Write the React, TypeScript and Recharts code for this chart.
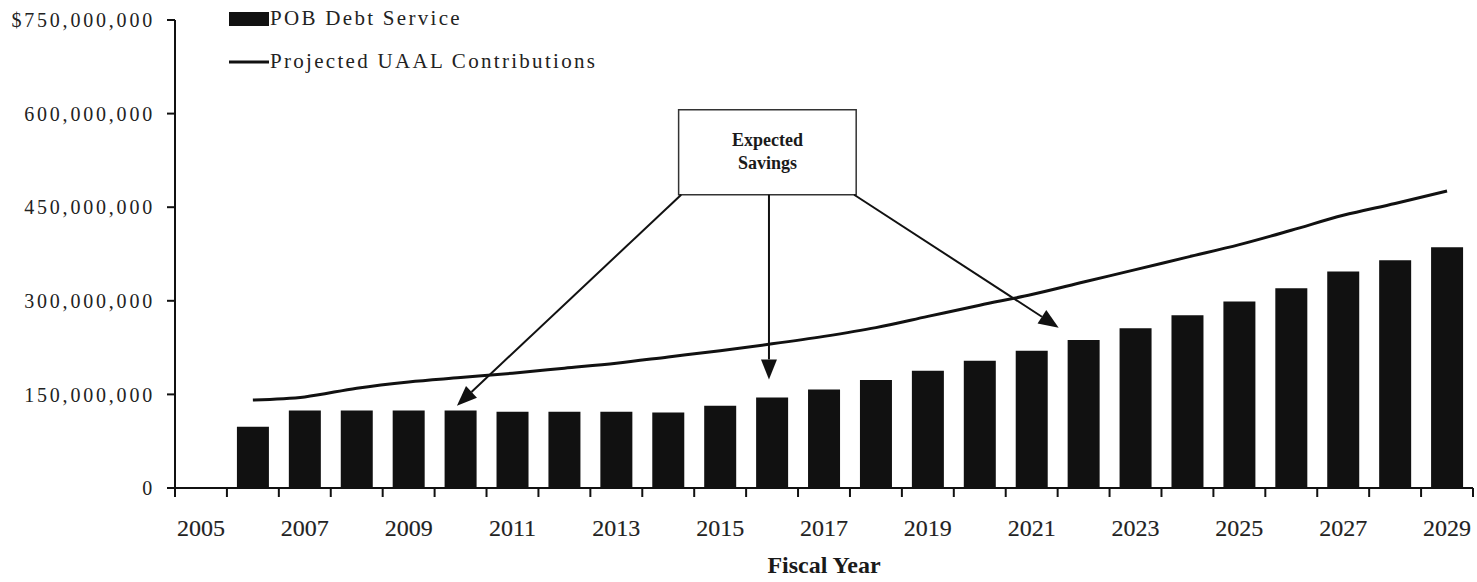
import {
  Bar,
  ComposedChart,
  Legend,
  Line,
  ReferenceArea,
  ReferenceLine,
  XAxis,
  YAxis,
} from "recharts";

// Fiscal years on the axis (2005 has no figures)
const YEARS = [
  2005, 2006, 2007, 2008, 2009, 2010, 2011, 2012, 2013, 2014, 2015, 2016, 2017,
  2018, 2019, 2020, 2021, 2022, 2023, 2024, 2025, 2026, 2027, 2028, 2029,
];

// $ millions
const POB_DEBT_SERVICE = [
  null, 98, 124, 124, 124, 124, 122, 122, 122, 121, 132, 145, 158, 173, 188,
  204, 220, 237, 256, 277, 299, 320, 347, 365, 386,
];

const UAAL_CONTRIBUTIONS = [
  null, 141, 146, 160, 170, 177, 184, 192, 200, 210, 220, 231, 243, 257, 275,
  293, 310, 330, 350, 370, 390, 413, 437, 456, 476,
];

const Y_TICKS = [0, 150e6, 300e6, 450e6, 600e6, 750e6];

const INK = "#111";
const SERIF = "'Liberation Serif', 'Times New Roman', serif";

const data = YEARS.map((year, i) => ({
  year,
  debt: POB_DEBT_SERVICE[i] == null ? null : POB_DEBT_SERVICE[i]! * 1e6,
  uaal: UAAL_CONTRIBUTIONS[i] == null ? null : UAAL_CONTRIBUTIONS[i]! * 1e6,
}));

// "Expected Savings" call-out, placed on a continuous year axis (dollars on y)
const SAVINGS_BOX = { x1: 2014.2, x2: 2017.62, y1: 470e6, y2: 606e6 };
const SAVINGS_ARROWS = [
  { from: [2014.25, 470e6], to: [2009.93, 132e6] },
  { from: [2015.94, 470e6], to: [2015.94, 174e6] },
  { from: [2017.58, 470e6], to: [2021.52, 257e6] },
];

const formatDollars = (v: number) =>
  v === 750e6 ? "$750,000,000" : v.toLocaleString("en-US");

const YearTick = (props: any) => {
  const { x, y, payload, index, visibleTicksCount, width } = props;
  const half = width / visibleTicksCount / 2;
  const isLast = index === visibleTicksCount - 1;
  return (
    <g>
      <line x1={x - half} x2={x - half} y1={y} y2={y + 9} stroke={INK} strokeWidth={2} />
      {isLast && (
        <line x1={x + half} x2={x + half} y1={y} y2={y + 9} stroke={INK} strokeWidth={2} />
      )}
      {payload.value % 2 === 1 && (
        <text
          x={x}
          y={y + 48}
          textAnchor="middle"
          fontFamily={SERIF}
          fontSize={24}
          fill="#222"
          stroke="#222"
          strokeWidth={0.15}
        >
          {payload.value}
        </text>
      )}
    </g>
  );
};

const Arrow = (props: any) => {
  const { x1, y1, x2, y2 } = props;
  const ang = Math.atan2(y2 - y1, x2 - x1);
  const len = 20;
  const w = 8;
  const bx = x2 - len * Math.cos(ang);
  const by = y2 - len * Math.sin(ang);
  const px = -Math.sin(ang) * w;
  const py = Math.cos(ang) * w;
  return (
    <g>
      <line x1={x1} y1={y1} x2={bx} y2={by} stroke={INK} strokeWidth={2} />
      <polygon
        points={`${x2},${y2} ${bx + px},${by + py} ${bx - px},${by - py}`}
        fill={INK}
      />
    </g>
  );
};

const SavingsLabel = (props: any) => {
  const { x, y, width } = props.viewBox;
  const cx = x + width / 2;
  return (
    <text textAnchor="middle" fontFamily={SERIF} fontWeight="bold" fontSize={18} fill="#1a1a1a">
      <tspan x={cx} y={y + 36}>Expected</tspan>
      <tspan x={cx} y={y + 59}>Savings</tspan>
    </text>
  );
};

const LegendBox = ({ payload }: any) => (
  <div style={{ fontFamily: SERIF, fontSize: 21, color: "#222", letterSpacing: 2.3 }}>
    {(payload || []).map((entry: any) => (
      <div key={entry.value} style={{ display: "flex", alignItems: "center", height: 43 }}>
        <svg width={40} height={18} style={{ marginRight: 1 }}>
          {entry.type === "line" ? (
            <line x1={0} x2={40} y1={9} y2={9} stroke={INK} strokeWidth={3} />
          ) : (
            <rect x={0} y={2} width={40} height={14} fill={INK} />
          )}
        </svg>
        <span>{entry.value}</span>
      </div>
    ))}
  </div>
);

export default function App() {
  return (
    <div style={{ position: "absolute", left: 0, top: 0, width: 1477, height: 582, background: "#fff" }}>
      <ComposedChart
        width={1477}
        height={582}
        data={data}
        margin={{ top: 20, right: 4, left: 0, bottom: 0 }}
      >
        <XAxis
          dataKey="year"
          type="category"
          interval={0}
          height={94}
          tickSize={0}
          tickMargin={0}
          tickLine={false}
          axisLine={{ stroke: INK, strokeWidth: 2 }}
          tick={<YearTick />}
          label={{
            value: "Fiscal Year",
            position: "insideBottom",
            offset: 9,
            fontFamily: SERIF,
            fontWeight: "bold",
            fontSize: 24,
            fill: "#1a1a1a",
          }}
        />
        {/* continuous year scale used to place the call-out */}
        <XAxis
          xAxisId="pos"
          dataKey="year"
          type="number"
          domain={[2004.5, 2029.5]}
          allowDataOverflow
          hide
        />
        <YAxis
          type="number"
          domain={[0, 750e6]}
          ticks={Y_TICKS}
          interval={0}
          width={175}
          tickSize={8}
          tickMargin={12}
          tickFormatter={formatDollars}
          axisLine={{ stroke: INK, strokeWidth: 2 }}
          tickLine={{ stroke: INK, strokeWidth: 2 }}
          tick={{ fontFamily: SERIF, fontSize: 20, fill: "#222", letterSpacing: 2.8 }}
        />
        <Legend
          layout="vertical"
          verticalAlign="middle"
          align="center"
          content={<LegendBox />}
          wrapperStyle={{ top: -3, left: 229, width: 420, height: 90 }}
        />
        <Bar
          dataKey="debt"
          name="POB Debt Service"
          legendType="rect"
          fill={INK}
          barSize={32}
          isAnimationActive={false}
        />
        <Line
          dataKey="uaal"
          name="Projected UAAL Contributions"
          legendType="line"
          type="monotone"
          stroke={INK}
          strokeWidth={3}
          dot={false}
          activeDot={false}
          isAnimationActive={false}
        />
        <ReferenceArea
          xAxisId="pos"
          x1={SAVINGS_BOX.x1}
          x2={SAVINGS_BOX.x2}
          y1={SAVINGS_BOX.y1}
          y2={SAVINGS_BOX.y2}
          fill="#fff"
          fillOpacity={1}
          stroke="#333"
          strokeWidth={1.5}
          ifOverflow="visible"
          label={<SavingsLabel />}
        />
        {SAVINGS_ARROWS.map((a, i) => (
          <ReferenceLine
            key={i}
            xAxisId="pos"
            ifOverflow="visible"
            segment={[
              { x: a.from[0], y: a.from[1] },
              { x: a.to[0], y: a.to[1] },
            ]}
            shape={<Arrow />}
          />
        ))}
      </ComposedChart>
    </div>
  );
}
